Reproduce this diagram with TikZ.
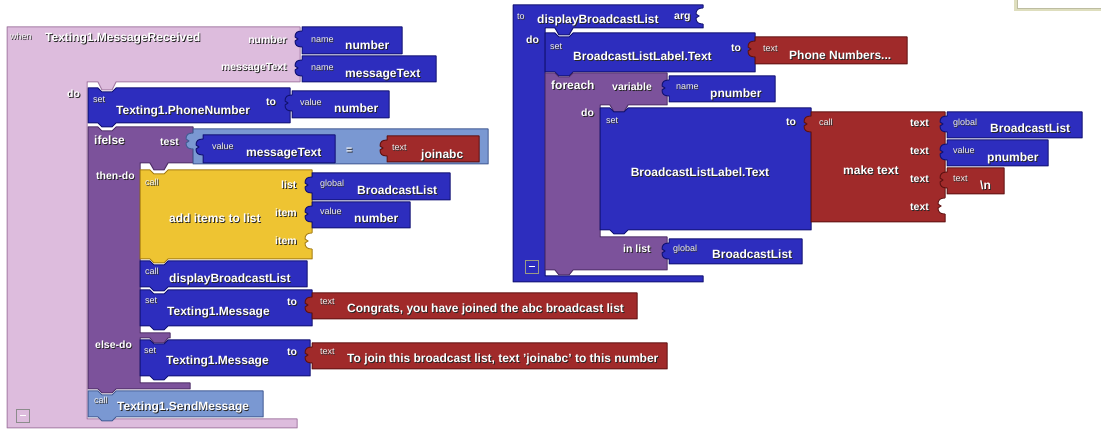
\documentclass[tikz,border=0pt]{standalone}
\usepackage{fontspec}
\setmainfont{Liberation Sans}
\definecolor{evfill}{RGB}{221,188,221}
\definecolor{evline}{RGB}{165,125,165}
\definecolor{bluefill}{RGB}{45,45,190}
\definecolor{blueline}{RGB}{18,18,115}
\definecolor{purpfill}{RGB}{124,82,155}
\definecolor{purpline}{RGB}{80,48,105}
\definecolor{yelfill}{RGB}{238,196,50}
\definecolor{yelline}{RGB}{165,125,20}
\definecolor{redfill}{RGB}{160,42,42}
\definecolor{redline}{RGB}{95,18,18}
\definecolor{lbfill}{RGB}{122,152,210}
\definecolor{lbline}{RGB}{68,92,148}
\definecolor{frameolive}{RGB}{222,222,190}
% text with a dark drop shadow
\newcommand\sh[1]{\leavevmode\rlap{\kern0.9pt\raisebox{-0.9pt}{\textcolor{black!85}{#1}}}#1}
\newcommand\shs[1]{\leavevmode\rlap{\kern0.6pt\raisebox{-0.6pt}{\textcolor{black!80}{#1}}}#1}
% statement block: x1 y1 x2 y2 style (notch on top, bump below)
\newcommand\stmtblk[5]{\draw[#5] (#1,#2) -- ({#1+10},#2) -- ({#1+14},{#2+4}) -- ({#1+24},{#2+4}) -- ({#1+28},#2) -- (#3,#2) -- (#3,#4) -- ({#1+28},#4) -- ({#1+24},{#4+4}) -- ({#1+14},{#4+4}) -- ({#1+10},#4) -- (#1,#4) -- cycle;}
% value block with a plug on its left side: x1 y1 x2 y2 style
\newcommand\valblk[5]{\draw[#5] (#1,#2) -- (#3,#2) -- (#3,#4) -- (#1,#4) -- (#1,{#2+20}) .. controls ({#1-5},{#2+20}) and ({#1-7},{#2+18}) .. ({#1-7},{#2+14}) -- ({#1-4},{#2+12}) -- ({#1-7},{#2+10}) .. controls ({#1-7},{#2+6}) and ({#1-5},{#2+4}) .. (#1,{#2+4}) -- cycle;}
% an open input socket cut into a block's right edge: x y linecolour
\newcommand\emptysock[3]{\fill[white] (#1,#2) .. controls ({#1-5},#2) and ({#1-7},{#2+2}) .. ({#1-7},{#2+6}) -- ({#1-4},{#2+8}) -- ({#1-7},{#2+10}) .. controls ({#1-7},{#2+14}) and ({#1-5},{#2+16}) .. (#1,{#2+16}) -- ({#1+1},{#2+16}) -- ({#1+1},#2) -- cycle;
\draw[#3,line width=0.9pt] (#1,#2) .. controls ({#1-5},#2) and ({#1-7},{#2+2}) .. ({#1-7},{#2+6}) -- ({#1-4},{#2+8}) -- ({#1-7},{#2+10}) .. controls ({#1-7},{#2+14}) and ({#1-5},{#2+16}) .. (#1,{#2+16});}
\tikzset{
  evblk/.style={fill=evfill,draw=evline,line width=1pt,line join=round},
  blueblk/.style={fill=bluefill,draw=blueline,line width=1pt,line join=round},
  purpblk/.style={fill=purpfill,draw=purpline,line width=1pt,line join=round},
  yelblk/.style={fill=yelfill,draw=yelline,line width=1pt,line join=round},
  redblk/.style={fill=redfill,draw=redline,line width=1pt,line join=round},
  lbblk/.style={fill=lbfill,draw=lbline,line width=1pt,line join=round},
  big/.style={anchor=base west,inner sep=0pt,text=white,font=\bfseries\fontsize{12}{14}\selectfont},
  mid/.style={anchor=base west,inner sep=0pt,text=white,font=\bfseries\fontsize{10.5}{12}\selectfont},
  small/.style={anchor=base west,inner sep=0pt,text=white!94!black,font=\fontsize{9}{11}\selectfont},
  minusbox/.style={draw=#1,line width=0.8pt,minimum width=13pt,minimum height=13pt,inner sep=0pt,
    path picture={\draw[white,line width=1.4pt] ([xshift=-3pt]path picture bounding box.center) -- ([xshift=3pt]path picture bounding box.center);}}
}
\begin{document}
\begin{tikzpicture}[x=1pt,y=-1pt]
\useasboundingbox (0,0) rectangle (1101,435);

% corner of a frame at the top right
\draw[frameolive,line width=3pt] (1015.5,0) -- (1015.5,9.5) -- (1101,9.5);
\draw[frameolive!85!black,line width=0.6pt] (1017,0) -- (1017,8) -- (1101,8);

% ===== event handler: when Texting1.MessageReceived =====
\draw[evblk] (7,27) -- (300,27) -- (300,82) -- (116,82) -- (112,90) -- (102,90) -- (98,82) -- (87,82)
  -- (87,419) -- (297,419) -- (297,428) -- (7,428) -- cycle;
\valblk{302}{27}{402}{54}{blueblk}
\valblk{302}{56}{436}{82}{blueblk}
\node[small] (whenlbl) at (10,40) {\shs{when}};
\node[big] (evname) at (45,42) {\sh{Texting1.MessageReceived}};
\node[mid,anchor=base east] (parnum) at (287,44) {\sh{number}};
\node[mid,anchor=base east] (parmsg) at (287,71) {\sh{messageText}};
\node[small] (nm1) at (311,43) {\shs{name}};
\node[big] (nm1v) at (345,50) {\sh{number}};
\node[small] (nm2) at (311,71) {\shs{name}};
\node[big] (nm2v) at (345,78) {\sh{messageText}};
\node[mid] (evdo) at (67,98) {\sh{do}};

% set Texting1.PhoneNumber
\stmtblk{88}{88}{290}{123}{blueblk}
\valblk{292}{91}{389}{118}{blueblk}
\node[small] (s1set) at (93,103) {\shs{set}};
\node[big] (s1name) at (116,115) {\sh{Texting1.PhoneNumber}};
\node[mid] (s1to) at (266,106) {\sh{to}};
\node[small] (s1val) at (300,106) {\shs{value}};
\node[big] (s1valv) at (334,113) {\sh{number}};

% ifelse
\draw[purpblk] (88,127) -- (98,127) -- (102,131) -- (112,131) -- (116,127) -- (193,127) -- (193,163)
  -- (168,163) -- (164,170) -- (154,170) -- (150,163) -- (140,163)
  -- (140,333) -- (170,333) -- (170,338) -- (168,338) -- (164,343) -- (154,343) -- (150,338) -- (140,338)
  -- (140,383) -- (190,383) -- (190,389) -- (116,389) -- (112,393) -- (102,393) -- (98,389) -- (88,389) -- cycle;
\node[big] (iflbl) at (94,145) {\sh{ifelse}};
\node[mid] (testlbl) at (160,146) {\sh{test}};
\node[mid] (thenlbl) at (96,180) {\sh{then-do}};
\node[mid] (elselbl) at (95,349) {\sh{else-do}};

% test: messageText = joinabc
\valblk{193}{129}{488}{164}{lbblk}
\valblk{203}{135}{335}{163}{blueblk}
\valblk{387}{136}{479}{162}{redblk}
\node[small] (eqval) at (212,150) {\shs{value}};
\node[big] (eqvalv) at (246,157) {\sh{messageText}};
\node[mid] (eqsign) at (346,154) {\sh{=}};
\node[small] (eqtxt) at (392,151) {\shs{text}};
\node[big] (eqtxtv) at (421,159) {\sh{joinabc}};

% add items to list
\stmtblk{140}{170}{312}{259}{yelblk}
\valblk{312}{173}{450}{200}{blueblk}
\valblk{312}{202}{410}{228}{blueblk}
\emptysock{312}{233}{yelline}
\node[small] (adcall) at (145,186) {\shs{call}};
\node[big] (adname) at (169,223) {\sh{add items to list}};
\node[mid] (adlist) at (281,189) {\sh{list}};
\node[mid] (aditem1) at (275,217) {\sh{item}};
\node[mid] (aditem2) at (275,245) {\sh{item}};
\node[small] (adglob) at (320,187) {\shs{global}};
\node[big] (adglobv) at (357,195) {\sh{BroadcastList}};
\node[small] (adval) at (320,215) {\shs{value}};
\node[big] (advalv) at (354,223) {\sh{number}};

% call displayBroadcastList
\stmtblk{140}{261}{307}{287}{blueblk}
\node[small] (dbcall) at (145,275) {\shs{call}};
\node[big] (dbname) at (169,283) {\sh{displayBroadcastList}};

% set Texting1.Message (then)
\stmtblk{140}{290}{312}{326}{blueblk}
\valblk{312}{293}{637}{319}{redblk}
\node[small] (s2set) at (145,304) {\shs{set}};
\node[big] (s2name) at (167,316) {\sh{Texting1.Message}};
\node[mid] (s2to) at (287,306) {\sh{to}};
\node[small] (s2txt) at (320,305) {\shs{text}};
\node[big] (s2txtv) at (347,313) {\sh{Congrats, you have joined the abc broadcast list}};

% set Texting1.Message (else)
\stmtblk{140}{340}{310}{376}{blueblk}
\valblk{312}{343}{667}{369}{redblk}
\node[small] (s3set) at (144,354) {\shs{set}};
\node[big] (s3name) at (166,365) {\sh{Texting1.Message}};
\node[mid] (s3to) at (287,356) {\sh{to}};
\node[small] (s3txt) at (320,355) {\shs{text}};
\node[big] (s3txtv) at (347,363) {\sh{To join this broadcast list, text 'joinabc' to this number}};

% call Texting1.SendMessage
\stmtblk{88}{391}{263}{417}{lbblk}
\node[small] (smcall) at (94,404) {\shs{call}};
\node[big] (smname) at (117,411) {\sh{Texting1.SendMessage}};

\node[minusbox=black!45] (evminus) at (22.5,415.5) {};

% ===== procedure: to displayBroadcastList =====
\draw[blueblk] (513,5) -- (703,5) -- (703,28) -- (573,28) -- (569,35) -- (559,35) -- (555,28) -- (545,28)
  -- (545,276) -- (703,276) -- (703,282) -- (513,282) -- cycle;
\emptysock{703}{8}{blueline}
\node[small] (prto) at (517,20) {\shs{to}};
\node[big] (prname) at (537,24) {\sh{displayBroadcastList}};
\node[mid] (prarg) at (674,20) {\sh{arg}};
\node[mid] (prdo) at (526,44) {\sh{do}};

% set BroadcastListLabel.Text to "Phone Numbers..."
\stmtblk{545}{33}{755}{72}{blueblk}
\valblk{755}{37}{907}{64}{redblk}
\node[small] (p1set) at (550,50) {\shs{set}};
\node[big] (p1name) at (573,61) {\sh{BroadcastListLabel.Text}};
\node[mid] (p1to) at (731,52) {\sh{to}};
\node[small] (p1txt) at (763,52) {\shs{text}};
\node[big] (p1txtv) at (789,60) {\sh{Phone Numbers...}};

% foreach
\draw[purpblk] (545,73) -- (555,73) -- (559,77) -- (569,77) -- (573,73) -- (667,73) -- (667,105)
  -- (628,105) -- (624,112) -- (614,112) -- (610,105) -- (600,105)
  -- (600,237) -- (667,237) -- (667,270) -- (573,270) -- (569,275) -- (559,275) -- (555,270) -- (545,270) -- cycle;
\valblk{669}{76}{775}{102}{blueblk}
\valblk{669}{239}{802}{264}{blueblk}
\node[big] (felbl) at (551,90) {\sh{foreach}};
\node[mid] (fevar) at (612,91) {\sh{variable}};
\node[small] (fenm) at (676,90) {\shs{name}};
\node[big] (fenmv) at (710,98) {\sh{pnumber}};
\node[mid] (fedo) at (581,117) {\sh{do}};
\node[mid] (feinl) at (623,253) {\sh{in list}};
\node[small] (fegl) at (673,252) {\shs{global}};
\node[big] (feglv) at (712,259) {\sh{BroadcastList}};

% set BroadcastListLabel.Text to make text
\stmtblk{600}{108}{811}{230}{blueblk}
\valblk{811}{112}{945}{222}{redblk}
\valblk{947}{112}{1082}{138}{blueblk}
\valblk{947}{140}{1048}{166}{blueblk}
\valblk{947}{168}{1004}{194}{redblk}
\emptysock{945}{198}{redline}
\node[small] (p2set) at (606,124) {\shs{set}};
\node[big,anchor=base] (p2name) at (700,177) {\sh{BroadcastListLabel.Text}};
\node[mid] (p2to) at (786,126) {\sh{to}};
\node[small] (mtcall) at (819,126) {\shs{call}};
\node[big] (mtname) at (843,175) {\sh{make text}};
\node[mid] (mtt1) at (910,127) {\sh{text}};
\node[mid] (mtt2) at (910,155) {\sh{text}};
\node[mid] (mtt3) at (910,183) {\sh{text}};
\node[mid] (mtt4) at (910,211) {\sh{text}};
\node[small] (mtg) at (953,126) {\shs{global}};
\node[big] (mtgv) at (990,133) {\sh{BroadcastList}};
\node[small] (mtv) at (953,154) {\shs{value}};
\node[big] (mtvv) at (987,162) {\sh{pnumber}};
\node[small] (mtx) at (953,182) {\shs{text}};
\node[big] (mtxv) at (980,190) {\sh{\textbackslash n}};

\node[minusbox=frameolive!70!black] (prminus) at (531.5,266.5) {};
\end{tikzpicture}
\end{document}
